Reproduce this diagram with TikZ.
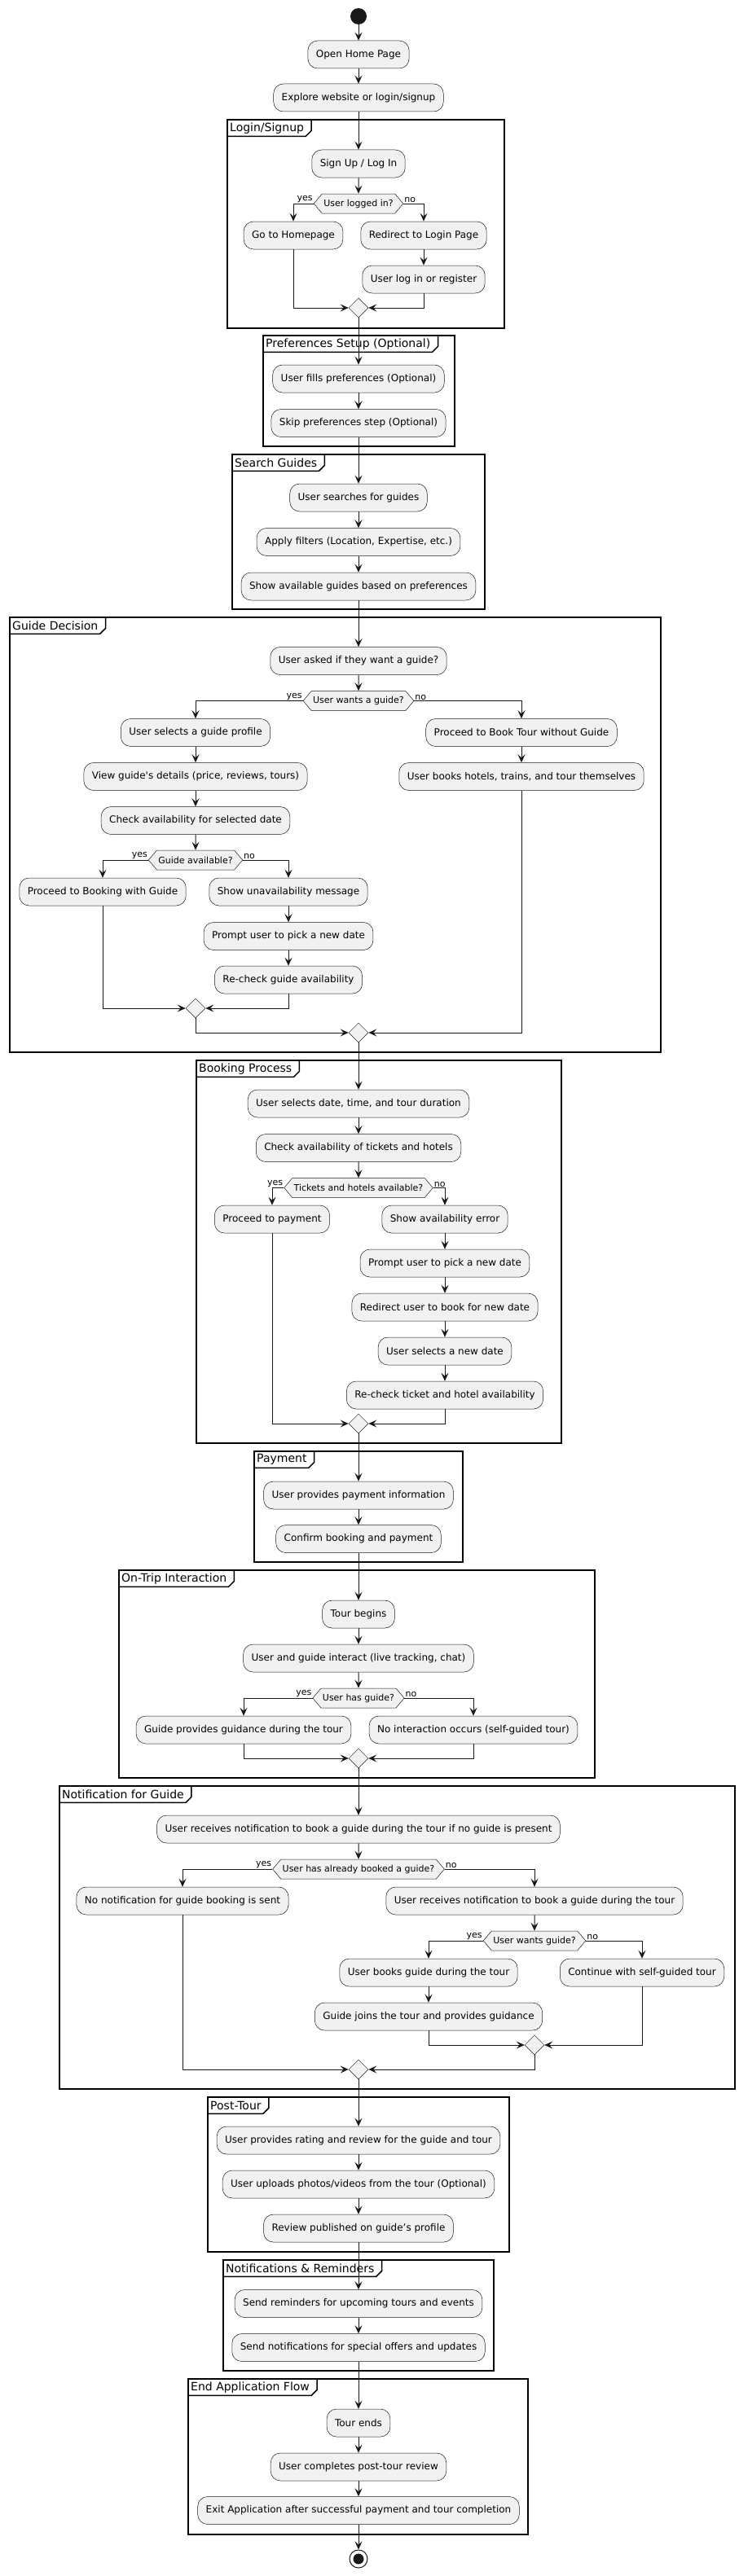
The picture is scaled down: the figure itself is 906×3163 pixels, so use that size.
\documentclass[tikz,border=0pt]{standalone}
\usepackage{fontspec}
\setmainfont{DejaVu Sans}
\usetikzlibrary{shapes.geometric,shapes.symbols,arrows.meta}

\definecolor{actfill}{HTML}{F1F1F1}
\definecolor{actline}{HTML}{181818}

\tikzset{
  activity/.style={draw=actline, line width=0.5pt, fill=actfill, rounded corners=12pt,
    minimum height=34pt, inner xsep=10pt, font=\fontsize{12}{14}\selectfont},
  branch/.style={signal, signal to=west and east, signal pointer angle=100, draw=actline,
    line width=0.5pt, fill=actfill, minimum height=24pt, inner xsep=2pt, inner ysep=0pt,
    font=\fontsize{11}{13}\selectfont},
  mergept/.style={diamond, draw=actline, line width=0.5pt, fill=actfill,
    minimum width=24pt, minimum height=24pt, inner sep=0pt},
  guard/.style={font=\fontsize{11}{13}\selectfont, inner sep=1pt},
  startdot/.style={circle, fill=actline, minimum size=20pt, inner sep=0pt},
  stopdot/.style={circle, draw=actline, line width=1pt, minimum size=22pt, inner sep=0pt,
    path picture={\fill[actline] (path picture bounding box.center) circle (6.5pt);}},
  flow/.style={draw=actline, line width=1pt, -{Stealth[length=10pt,width=9pt,inset=4pt]}},
  grpline/.style={draw=black, line width=1.5pt},
  grptitle/.style={anchor=north west, inner xsep=3pt, inner ysep=0pt, minimum height=20pt,
    font=\fontsize{14}{16}\selectfont}
}

% group frame with its title tab
\newcommand{\umlgroup}[4]{%
  \draw[grpline] #2 rectangle #3;
  \node[grptitle] (#1) at #2 {#4};
  \draw[grpline] ([xshift=6pt]#1.north east) -- ([xshift=6pt,yshift=7pt]#1.south east)
    -- ([xshift=-1pt]#1.south east) -- (#1.south west);
}

\begin{document}
\begin{tikzpicture}[x=1pt, y=-1pt]
  \useasboundingbox (0,0) rectangle (906,3163);
  % frames
  \umlgroup{gLogin}{(279,147)}{(619,403)}{Login/Signup}
  \umlgroup{gPrefs}{(323,412)}{(558,548)}{Preferences Setup (Optional)}
  \umlgroup{gSearch}{(285,558)}{(595,748)}{Search Guides}
  \umlgroup{gDecide}{(12,758)}{(811,1292)}{Guide Decision}
  \umlgroup{gBook}{(241,1302)}{(689,1772)}{Booking Process}
  \umlgroup{gPay}{(312,1782)}{(568,1918)}{Payment}
  \umlgroup{gTrip}{(146,1928)}{(730,2183)}{On-Trip Interaction}
  \umlgroup{gNotif}{(73,2193)}{(902,2565)}{Notification for Guide}
  \umlgroup{gPost}{(255,2575)}{(625,2765)}{Post-Tour}
  \umlgroup{gRemind}{(274,2775)}{(606,2911)}{Notifications \& Reminders}
  \umlgroup{gEnd}{(231,2921)}{(648,3112)}{End Application Flow}

  % start and login
  \node[startdot] (start) at (440,20) {};
  \node[activity] (home)     at (440,67)  {Open Home Page};
  \node[activity] (explore)  at (440,120) {Explore website or login/signup};
  \node[activity] (signin)   at (440,201) {Sign Up / Log In};
  \node[branch]   (logged)   at (440,250) {User logged in?};
  \node[activity] (homepage) at (360,289) {Go to Homepage};
  \node[activity] (redirect) at (520,289) {Redirect to Login Page};
  \node[activity] (logreg)   at (520,343) {User log in or register};
  \node[mergept]  (m1)       at (440,378) {};

  % preferences and search
  \node[activity] (prefs)   at (440,465)   {User fills preferences (Optional)};
  \node[activity] (skip)    at (440,519.5) {Skip preferences step (Optional)};
  \node[activity] (search)  at (440,611)   {User searches for guides};
  \node[activity] (filters) at (440,665.5) {Apply filters (Location, Expertise, etc.)};
  \node[activity] (showg)   at (440,720)   {Show available guides based on preferences};

  % guide decision
  \node[activity] (asked)    at (440,811.5)  {User asked if they want a guide?};
  \node[branch]   (wants)    at (440,860.5)  {User wants a guide?};
  \node[activity] (profile)  at (240,899.5)  {User selects a guide profile};
  \node[activity] (details)  at (240,953.5)  {View guide\textquotesingle s details (price, reviews, tours)};
  \node[activity] (checkav)  at (240,1007.5) {Check availability for selected date};
  \node[branch]   (avail)    at (240,1056)   {Guide available?};
  \node[activity] (bookg)    at (126,1095)   {Proceed to Booking with Guide};
  \node[activity] (unav)     at (354,1095)   {Show unavailability message};
  \node[activity] (prompt)   at (354,1149.5) {Prompt user to pick a new date};
  \node[activity] (recheck)  at (354,1203)   {Re-check guide availability};
  \node[mergept]  (m2)       at (240,1238)   {};
  \node[activity] (nogd)     at (640,899.5)  {Proceed to Book Tour without Guide};
  \node[activity] (selfbook) at (640,953.5)  {User books hotels, trains, and tour themselves};
  \node[mergept]  (m3)       at (440,1268)   {};

  % booking
  \node[activity] (seldate)  at (440,1355)   {User selects date, time, and tour duration};
  \node[activity] (checkth)  at (440,1409.5) {Check availability of tickets and hotels};
  \node[branch]   (thav)     at (440,1458.5) {Tickets and hotels available?};
  \node[activity] (pay)      at (334,1497)   {Proceed to payment};
  \node[activity] (err)      at (546,1497)   {Show availability error};
  \node[activity] (prompt2)  at (546,1551)   {Prompt user to pick a new date};
  \node[activity] (redir)    at (546,1605)   {Redirect user to book for new date};
  \node[activity] (newdate)  at (546,1659)   {User selects a new date};
  \node[activity] (recheck2) at (546,1713)   {Re-check ticket and hotel availability};
  \node[mergept]  (m4)       at (440,1748)   {};

  % payment and trip
  \node[activity] (payinfo)  at (440,1836)   {User provides payment information};
  \node[activity] (confirm)  at (440,1889.5) {Confirm booking and payment};
  \node[activity] (tourbeg)  at (440,1982)   {Tour begins};
  \node[activity] (interact) at (440,2036)   {User and guide interact (live tracking, chat)};
  \node[branch]   (hasg)     at (440,2085)   {User has guide?};
  \node[activity] (guidance) at (299,2124)   {Guide provides guidance during the tour};
  \node[activity] (noint)    at (581,2124)   {No interaction occurs (self-guided tour)};
  \node[mergept]  (m5)       at (440,2159)   {};

  % notification for guide
  \node[activity] (notif)    at (440,2246) {User receives notification to book a guide during the tour if no guide is present};
  \node[branch]   (booked)   at (440,2295) {User has already booked a guide?};
  \node[activity] (nonotif)  at (224,2334) {No notification for guide booking is sent};
  \node[activity] (notif2)   at (656,2334) {User receives notification to book a guide during the tour};
  \node[branch]   (wantsg)   at (656,2383) {User wants guide?};
  \node[activity] (bookdur)  at (526,2422) {User books guide during the tour};
  \node[activity] (cont)     at (788,2422) {Continue with self-guided tour};
  \node[activity] (joins)    at (526,2476) {Guide joins the tour and provides guidance};
  \node[mergept]  (m6)       at (656,2511) {};
  \node[mergept]  (m7)       at (440,2541) {};

  % post-tour, reminders, end
  \node[activity] (rating)   at (440,2628)   {User provides rating and review for the guide and tour};
  \node[activity] (photos)   at (440,2682)   {User uploads photos/videos from the tour (Optional)};
  \node[activity] (review)   at (440,2736)   {Review published on guide’s profile};
  \node[activity] (remind)   at (440,2828.5) {Send reminders for upcoming tours and events};
  \node[activity] (offers)   at (440,2882.5) {Send notifications for special offers and updates};
  \node[activity] (tourend)  at (440,2975)   {Tour ends};
  \node[activity] (postrev)  at (440,3029)   {User completes post-tour review};
  \node[activity] (exitapp)  at (440,3082.5) {Exit Application after successful payment and tour completion};
  \node[stopdot]  (stop)     at (440,3142)   {};

  % guards
  \node[guard, anchor=south east] (ly1) at (logged.west) {yes};
  \node[guard, anchor=south west] (ln1) at (logged.east) {no};
  \node[guard, anchor=south east] (ly2) at (wants.west)  {yes};
  \node[guard, anchor=south west] (ln2) at (wants.east)  {no};
  \node[guard, anchor=south east] (ly3) at (avail.west)  {yes};
  \node[guard, anchor=south west] (ln3) at (avail.east)  {no};
  \node[guard, anchor=south east] (ly4) at (thav.west)   {yes};
  \node[guard, anchor=south west] (ln4) at (thav.east)   {no};
  \node[guard, anchor=south east] (ly5) at (hasg.west)   {yes};
  \node[guard, anchor=south west] (ln5) at (hasg.east)   {no};
  \node[guard, anchor=south east] (ly6) at (booked.west) {yes};
  \node[guard, anchor=south west] (ln6) at (booked.east) {no};
  \node[guard, anchor=south east] (ly7) at (wantsg.west) {yes};
  \node[guard, anchor=south west] (ln7) at (wantsg.east) {no};

  % straight flows
  \foreach \a/\b in {start/home, home/explore, explore/signin, signin/logged,
      redirect/logreg, m1/prefs, prefs/skip, skip/search, search/filters, filters/showg,
      showg/asked, asked/wants, profile/details, details/checkav, checkav/avail,
      unav/prompt, prompt/recheck, nogd/selfbook, m3/seldate, seldate/checkth,
      checkth/thav, err/prompt2, prompt2/redir, redir/newdate, newdate/recheck2,
      m4/payinfo, payinfo/confirm, confirm/tourbeg, tourbeg/interact, interact/hasg,
      m5/notif, notif/booked, notif2/wantsg, bookdur/joins, m7/rating, rating/photos,
      photos/review, review/remind, remind/offers, offers/tourend, tourend/postrev,
      postrev/exitapp, exitapp/stop}
    \draw[flow] (\a) -- (\b);

  % branches
  \foreach \d/\l/\r in {logged/homepage/redirect, wants/profile/nogd, avail/bookg/unav,
      thav/pay/err, hasg/guidance/noint, booked/nonotif/notif2, wantsg/bookdur/cont} {
    \draw[flow] (\d.west) -| (\l.north);
    \draw[flow] (\d.east) -| (\r.north);
  }

  % merges
  \foreach \l/\m/\r in {homepage/m1/logreg, bookg/m2/recheck, m2/m3/selfbook,
      pay/m4/recheck2, guidance/m5/noint, joins/m6/cont, nonotif/m7/m6} {
    \draw[flow] (\l.south) |- (\m.west);
    \draw[flow] (\r.south) |- (\m.east);
  }
\end{tikzpicture}
\end{document}
